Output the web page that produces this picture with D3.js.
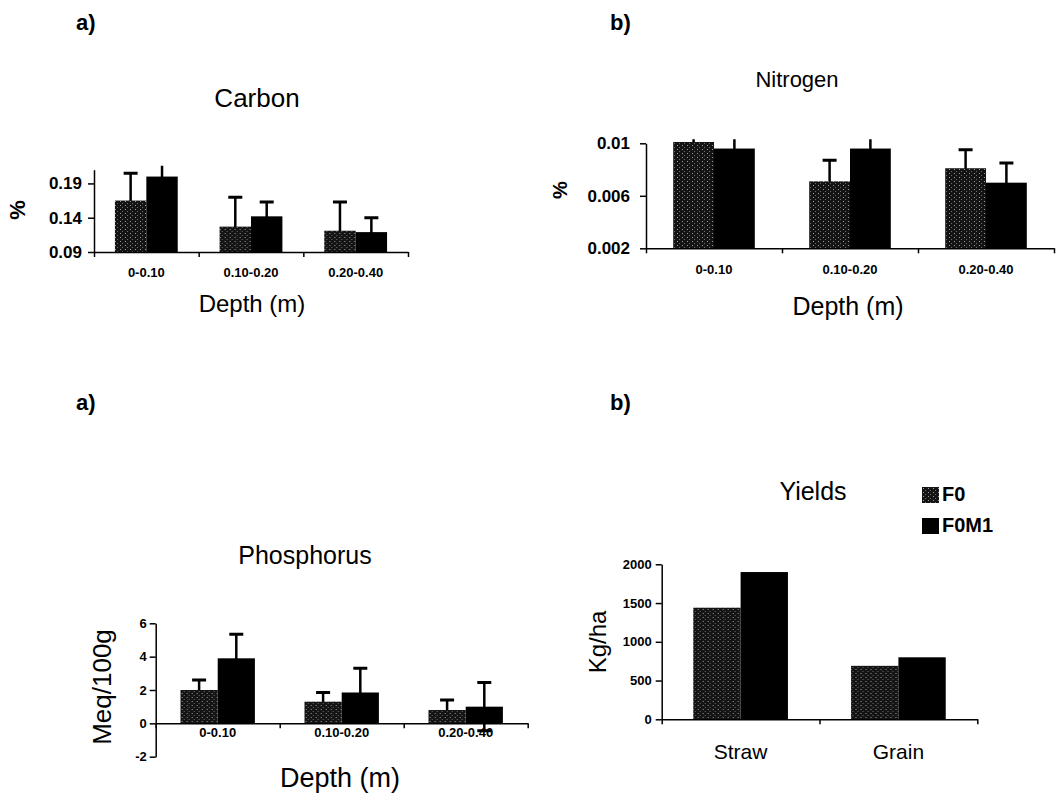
<!DOCTYPE html>
<html>
<head>
<meta charset="utf-8">
<script src="https://cdn.jsdelivr.net/npm/d3@7"></script>
<style>
  body { margin: 0; background: #fff; }
  svg { display: block; }
  text { font-family: "Liberation Sans", Arial, sans-serif; fill: #000; }
</style>
</head>
<body>
<div id="chart"></div>
<script>
const depths = ["0-0.10", "0.10-0.20", "0.20-0.40"];
const treatments = ["F0", "F0M1"];

const carbonF0 = [0.165, 0.127, 0.121];
const carbonF0M1 = [0.200, 0.142, 0.119];
const carbonErrF0 = [0.040, 0.043, 0.042];
const carbonErrF0M1 = [0.020, 0.021, 0.021];
const carbonTicks = [0.09, 0.14, 0.19];

const nitrogenF0 = [0.0101, 0.0071, 0.0081];
const nitrogenF0M1 = [0.0096, 0.0096, 0.0070];
const nitrogenErrF0 = [0.0008, 0.0016, 0.0014];
const nitrogenErrF0M1 = [0.0012, 0.0012, 0.0015];
const nitrogenTicks = [0.002, 0.006, 0.01];

const phosphorusF0 = [2.0, 1.3, 0.8];
const phosphorusF0M1 = [3.9, 1.85, 1.0];
const phosphorusErrF0 = [0.6, 0.55, 0.6];
const phosphorusErrF0M1 = [1.45, 1.45, 1.45];
const phosphorusTicks = [-2, 0, 2, 4, 6];

const crops = ["Straw", "Grain"];
const yieldF0 = [1440, 690];
const yieldF0M1 = [1900, 800];
const yieldTicks = [0, 500, 1000, 1500, 2000];

const W = 1062, H = 810;

const svg = d3.select("#chart")
  .append("svg")
  .attr("width", W)
  .attr("height", H);

// stippled fill for F0 bars
const defs = svg.append("defs");
const pat = defs.append("pattern")
  .attr("id", "stipple")
  .attr("patternUnits", "userSpaceOnUse")
  .attr("width", 5)
  .attr("height", 4);
pat.append("rect").attr("width", 5).attr("height", 4).attr("fill", "#141414");
pat.append("rect").attr("x", 1).attr("y", 1).attr("width", 1).attr("height", 1).attr("fill", "#9a9a9a");
pat.append("rect").attr("x", 3).attr("y", 3).attr("width", 1).attr("height", 1).attr("fill", "#6a6a6a");

const fill = d3.scaleOrdinal().domain(treatments).range(["url(#stipple)", "#000"]);

function panel(p) {
  const y = d3.scaleLinear().domain(p.domain).range([p.bottom, p.top]);
  const x0 = d3.scaleBand().domain(p.cats).range([p.left, p.right]).padding(0);
  const bw = x0.bandwidth();
  const x1 = d3.scaleBand().domain(treatments).range([bw * 0.2, bw * 0.8]).padding(0);

  const rows = p.cats.map((c, i) => ({
    cat: c,
    items: treatments.map((t, k) => ({
      key: t,
      value: p.series[k][i],
      err: p.errors ? p.errors[k][i] : null
    }))
  }));

  const g = svg.append("g");
  const clipId = "clip" + p.id;
  defs.append("clipPath").attr("id", clipId)
    .append("rect")
    .attr("x", p.left)
    .attr("y", p.top - 4)
    .attr("width", p.right - p.left)
    .attr("height", p.bottom - p.top + 4);

  const base = y(p.base);

  // error bars first so the bars hide the lower half
  if (p.errors) {
    const eb = g.append("g").attr("clip-path", `url(#${clipId})`)
      .selectAll("g")
      .data(rows)
      .join("g")
      .attr("transform", d => `translate(${x0(d.cat)},0)`);
    eb.selectAll("g")
      .data(d => d.items)
      .join("g")
      .each(function (d) {
        const cx = x1(d.key) + x1.bandwidth() / 2;
        const e = d3.select(this);
        e.append("line")
          .attr("x1", cx).attr("x2", cx)
          .attr("y1", y(d.value - d.err)).attr("y2", y(d.value + d.err))
          .attr("stroke", "#000").attr("stroke-width", 2.5);
        [d.value + d.err, d.value - d.err].forEach(v => {
          e.append("line")
            .attr("x1", cx - 7).attr("x2", cx + 7)
            .attr("y1", y(v)).attr("y2", y(v))
            .attr("stroke", "#000").attr("stroke-width", 3);
        });
      });
  }

  g.append("g")
    .selectAll("g")
    .data(rows)
    .join("g")
    .attr("transform", d => `translate(${x0(d.cat)},0)`)
    .selectAll("rect")
    .data(d => d.items)
    .join("rect")
    .attr("x", d => x1(d.key))
    .attr("width", x1.bandwidth())
    .attr("y", d => Math.min(y(d.value), base))
    .attr("height", d => Math.abs(base - y(d.value)))
    .attr("fill", d => fill(d.key));

  // y axis
  const ya = g.append("g")
    .attr("transform", `translate(${p.left},0)`)
    .call(d3.axisLeft(y).tickValues(p.ticks).tickSize(6).tickSizeOuter(0)
      .tickPadding(p.tickPad).tickFormat(p.fmt));
  ya.select(".domain").attr("stroke-width", 1.5);
  ya.selectAll(".tick line").attr("stroke-width", 1.5);
  ya.selectAll(".tick text")
    .style("font-size", p.tickFont + "px")
    .style("font-weight", "bold");

  // x axis: line at base, ticks between categories
  const xb = d3.scaleLinear().domain([0, p.cats.length]).range([p.left, p.right]);
  const xa = g.append("g")
    .attr("transform", `translate(0,${base})`)
    .call(d3.axisBottom(xb).tickValues(d3.range(0, p.cats.length + 1))
      .tickSize(5).tickSizeOuter(0).tickFormat(""));
  xa.select(".domain").attr("stroke-width", 1.5);
  xa.selectAll(".tick line").attr("stroke-width", 1.5);

  // category labels
  g.selectAll(".cat")
    .data(p.cats)
    .join("text")
    .attr("x", d => x0(d) + bw / 2)
    .attr("y", p.catY)
    .attr("text-anchor", "middle")
    .style("font-size", p.catFont + "px")
    .style("font-weight", p.catWeight)
    .text(d => d);

  g.append("text")
    .attr("x", p.titleX).attr("y", p.titleY)
    .attr("text-anchor", "middle")
    .style("font-size", p.titleFont + "px")
    .text(p.title);

  if (p.xlabel) {
    g.append("text")
      .attr("x", p.xlabelX).attr("y", p.xlabelY)
      .attr("text-anchor", "middle")
      .style("font-size", p.xlabelFont + "px")
      .text(p.xlabel);
  }

  g.append("text")
    .attr("transform", `translate(${p.ylabelX},${p.ylabelY}) rotate(-90)`)
    .attr("text-anchor", "middle")
    .attr("dy", "0.35em")
    .style("font-size", p.ylabelFont + "px")
    .style("font-weight", p.ylabelWeight)
    .text(p.ylabel);
}

panel({
  id: "C", cats: depths, series: [carbonF0, carbonF0M1], errors: [carbonErrF0, carbonErrF0M1],
  domain: [0.09, 0.21], base: 0.09, ticks: carbonTicks, fmt: d3.format(".2f"),
  left: 94, right: 408, top: 169.7, bottom: 252, tickPad: 6, tickFont: 17,
  catY: 277, catFont: 13, catWeight: "bold",
  title: "Carbon", titleX: 257, titleY: 107, titleFont: 26,
  xlabel: "Depth (m)", xlabelX: 252, xlabelY: 312, xlabelFont: 24,
  ylabel: "%", ylabelX: 17, ylabelY: 210, ylabelFont: 22, ylabelWeight: "bold"
});

panel({
  id: "N", cats: depths, series: [nitrogenF0, nitrogenF0M1], errors: [nitrogenErrF0, nitrogenErrF0M1],
  domain: [0.002, 0.01], base: 0.002, ticks: nitrogenTicks, fmt: d => d3.format(".3~f")(d),
  left: 646, right: 1054, top: 143.3, bottom: 248.3, tickPad: 10, tickFont: 17,
  catY: 273.5, catFont: 13, catWeight: "bold",
  title: "Nitrogen", titleX: 797, titleY: 87, titleFont: 22,
  xlabel: "Depth (m)", xlabelX: 848, xlabelY: 315, xlabelFont: 25,
  ylabel: "%", ylabelX: 560, ylabelY: 190, ylabelFont: 20, ylabelWeight: "bold"
});

panel({
  id: "P", cats: depths, series: [phosphorusF0, phosphorusF0M1], errors: [phosphorusErrF0, phosphorusErrF0M1],
  domain: [-2, 6], base: 0, ticks: phosphorusTicks, fmt: d => String(d),
  left: 155.7, right: 527.7, top: 623.3, bottom: 756.7, tickPad: 3, tickFont: 13,
  catY: 737, catFont: 13, catWeight: "bold",
  title: "Phosphorus", titleX: 305, titleY: 564, titleFont: 25,
  xlabel: "Depth (m)", xlabelX: 340, xlabelY: 787, xlabelFont: 27,
  ylabel: "Meq/100g", ylabelX: 102, ylabelY: 687, ylabelFont: 26, ylabelWeight: "normal"
});

panel({
  id: "Y", cats: crops, series: [yieldF0, yieldF0M1], errors: null,
  domain: [0, 2000], base: 0, ticks: yieldTicks, fmt: d => String(d),
  left: 661.7, right: 977.3, top: 564.3, bottom: 719.3, tickPad: 4, tickFont: 13,
  catY: 759, catFont: 21, catWeight: "normal",
  title: "Yields", titleX: 813, titleY: 500, titleFont: 25,
  xlabel: null,
  ylabel: "Kg/ha", ylabelX: 598, ylabelY: 642, ylabelFont: 24, ylabelWeight: "normal"
});

// legend
const legend = svg.append("g")
  .selectAll("g")
  .data(treatments)
  .join("g")
  .attr("transform", (d, i) => `translate(922,${487 + i * 31})`);
legend.append("rect")
  .attr("width", 17).attr("height", 16)
  .attr("fill", d => fill(d));
legend.append("text")
  .attr("x", 20).attr("y", 14)
  .style("font-size", "20px")
  .style("font-weight", "bold")
  .text(d => d);

// panel letters
const letters = [
  { t: "a)", x: 76, y: 30 },
  { t: "b)", x: 610, y: 30 },
  { t: "a)", x: 76, y: 410 },
  { t: "b)", x: 610, y: 410 }
];
svg.selectAll(".letter")
  .data(letters)
  .join("text")
  .attr("x", d => d.x).attr("y", d => d.y)
  .style("font-size", "22px")
  .style("font-weight", "bold")
  .text(d => d.t);
</script>
</body>
</html>
